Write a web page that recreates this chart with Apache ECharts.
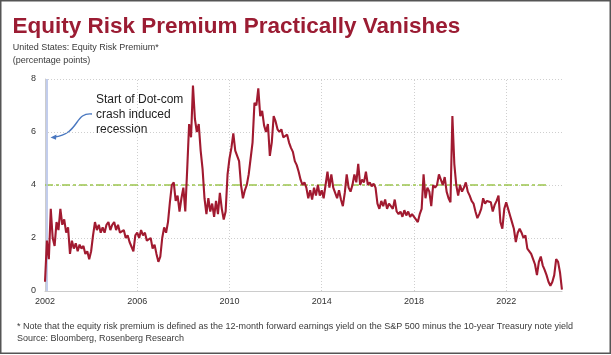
<!DOCTYPE html>
<html><head><meta charset="utf-8">
<script src="https://cdn.jsdelivr.net/npm/echarts@6/dist/echarts.min.js"></script>
<style>html,body{margin:0;padding:0;background:#fff}#c{width:611px;height:355px}</style>
</head><body><div id="c"></div>
<script>
// Monthly equity risk premium (percentage points), starting Jan 2002
const startYear = 2002;
const erp = [
  0.35, 1.9, 1.2, 3.1, 2.0, 1.7, 2.6, 2.3, 3.1, 2.5, 2.7, 2.2,
  2.4, 1.4, 1.9, 1.6, 1.8, 1.5, 1.75, 1.6, 1.7, 1.4, 1.5, 1.2,
  1.5, 2.1, 2.6, 2.3, 2.5, 2.2, 2.4, 2.2, 2.5, 2.6, 2.3, 2.5,
  2.6, 2.3, 2.5, 2.2, 2.15, 2.3, 2.0, 2.1, 1.85, 1.9, 1.5, 2.1,
  2.2, 2.0, 2.3, 2.1, 2.2, 1.9, 1.85, 2.0, 1.6, 1.75, 1.4, 1.1,
  1.3, 2.0, 2.4, 2.2, 2.6, 3.35, 4.0, 4.1, 3.4, 3.6, 3.0, 3.5,
  3.9, 3.0, 4.6, 6.3, 5.8, 7.75, 6.5, 6.0, 6.3, 5.3, 4.6, 3.5,
  2.9, 3.5, 3.0, 3.3, 2.8, 3.4, 2.9, 3.7, 3.1, 2.7, 3.0, 4.4,
  5.0, 5.4, 5.95, 5.3, 5.1, 4.9, 4.0, 3.5, 3.8, 4.0, 4.4, 5.0,
  5.6, 7.1, 7.0, 7.65, 6.6, 6.8, 6.25, 6.0, 6.3, 5.1, 5.6, 6.6,
  6.4, 6.1, 6.0, 6.1, 5.8, 5.75, 5.9, 5.6, 5.4, 5.25, 4.9, 4.75,
  4.5, 4.2, 4.0, 4.1, 3.9, 3.5, 3.8, 3.45, 3.9, 3.6, 4.0, 3.6,
  3.8, 3.5, 4.0, 4.5, 3.9, 4.4, 3.9, 3.7, 3.5, 3.8, 3.45, 3.2,
  3.7, 4.4, 3.9, 3.75, 4.0, 4.4, 4.1, 4.8, 4.0, 4.2, 4.1, 4.5,
  4.0, 4.1, 3.95, 4.05, 3.9, 3.3, 3.1, 3.4, 3.2, 3.45, 3.1, 3.3,
  3.2, 3.1, 3.45, 3.0, 2.9, 3.0, 2.8, 3.05, 2.85, 3.0, 2.8, 2.9,
  2.85, 2.7, 2.6, 2.9, 3.1, 4.4, 3.5, 3.9, 3.75, 3.2, 4.0, 3.9,
  4.0, 4.4, 4.45, 4.0, 4.3, 3.75, 3.5, 3.35, 6.6, 4.8, 4.0, 3.6,
  4.0, 3.75, 3.9, 4.1, 3.75, 3.6, 3.4, 3.3, 3.0, 2.75, 2.9, 3.1,
  3.5, 3.3, 3.4, 3.35, 3.35, 3.0, 3.25, 3.4, 3.6, 2.6, 2.35, 3.1,
  3.35, 3.1, 2.85, 2.6, 2.35, 1.85, 2.2, 2.35, 2.2, 2.0, 2.1, 1.6,
  1.6, 1.4, 1.2, 1.0, 0.6, 1.1, 1.3, 0.97, 0.8, 0.6, 0.35, 0.2,
  0.34, 0.6, 1.2, 1.1, 0.7, 0.05
];
const xTickYears = [2002, 2006, 2010, 2014, 2018, 2022];
const xMin = 2002, xMax = 2024.42, xInterval = 4;
const yMin = 0, yMax = 8, yInterval = 2;
const thresholdValue = 4;
const thresholdEnd = 2023.86;
const recessionStart = 2002.08;

const titleText = 'Equity Risk Premium Practically Vanishes';
const subtitleLines = ['United States: Equity Risk Premium*', '(percentage points)'];
const annotationText = 'Start of Dot-com\ncrash induced\nrecession';
const footnoteText = '* Note that the equity risk premium is defined as the 12-month forward earnings yield on the S&P 500 minus the 10-year Treasury note yield';
const sourceText = 'Source: Bloomberg, Rosenberg Research';

const seriesData = erp.map((v, i) => [startYear + i / 12, v]);
const FONT = "'Liberation Sans', Arial, sans-serif";
const gridLineStyle = {color: '#cfcfcf', type: [1, 2], width: 1};

const vGrid = xTickYears.slice(1).map(yr => [
  {coord: [yr, yMin], lineStyle: gridLineStyle}, {coord: [yr, yMax]}
]);

const chart = echarts.init(document.getElementById('c'), null, {renderer: 'canvas'});
chart.setOption({
  backgroundColor: '#fff',
  animation: false,
  grid: {left: 45, right: 49, top: 79, bottom: 64, containLabel: false},
  xAxis: {
    type: 'value', min: xMin, max: xMax, interval: xInterval,
    axisLine: {show: true, lineStyle: {color: '#cccccc', width: 1}},
    axisTick: {show: false},
    axisLabel: {color: '#333', fontSize: 9, fontFamily: FONT, margin: 6, showMaxLabel: false,
      formatter: v => (xTickYears.indexOf(v) >= 0 ? String(v) : '')},
    splitLine: {show: false}
  },
  yAxis: {
    type: 'value', min: yMin, max: yMax, interval: yInterval,
    axisLine: {show: true, lineStyle: {color: '#cccccc', width: 1}},
    axisTick: {show: false},
    axisLabel: {color: '#333', fontSize: 9, fontFamily: FONT, margin: 9},
    splitLine: {show: true, lineStyle: gridLineStyle}
  },
  series: [{
    type: 'line',
    data: seriesData,
    showSymbol: false,
    symbol: 'none',
    lineStyle: {color: '#a11a30', width: 2.1},
    z: 3,
    markLine: {
      silent: true,
      symbol: ['none', 'none'],
      label: {show: false},
      z: 1,
      data: vGrid.concat([
        [{coord: [xMin, thresholdValue], lineStyle: {color: '#9cc54e', width: 1.5, type: [8, 3, 3, 3]}},
         {coord: [thresholdEnd, thresholdValue]}],
        [{coord: [recessionStart, yMin], lineStyle: {color: '#b3c0e8', width: 1.6, type: 'solid'}},
         {coord: [recessionStart, yMax]}]
      ])
    }
  }],
  graphic: [
    {type: 'rect', shape: {x: 0.75, y: 0.75, width: 609.5, height: 352.5},
     style: {fill: 'none', stroke: '#555', lineWidth: 1.5}, silent: true},
    {type: 'text', x: 12.5, y: 26.7,
     style: {text: titleText, fill: '#9b1c33', font: "bold 22.5px " + FONT, verticalAlign: 'middle'}},
    {type: 'text', x: 12.7, y: 48,
     style: {text: subtitleLines[0], fill: '#3a3a3a', font: "9px " + FONT, verticalAlign: 'middle'}},
    {type: 'text', x: 12.7, y: 60.5,
     style: {text: subtitleLines[1], fill: '#3a3a3a', font: "9px " + FONT, verticalAlign: 'middle'}},
    {type: 'text', x: 96, y: 115,
     style: {text: annotationText, fill: '#222', font: "12px " + FONT, lineHeight: 15, verticalAlign: 'middle'}},
    {type: 'bezierCurve', shape: {x1: 92, y1: 114, cpx1: 74, cpy1: 112, cpx2: 80, cpy2: 134, x2: 54, y2: 137},
     style: {stroke: '#4a78c0', lineWidth: 1.4, fill: 'none'}},
    {type: 'polygon', shape: {points: [[50.5, 137.6], [56.5, 134.6], [56, 139.8]]},
     style: {fill: '#4a78c0'}},
    {type: 'text', x: 17, y: 326.7,
     style: {text: footnoteText, fill: '#3a3a3a', font: "9px " + FONT, verticalAlign: 'middle'}},
    {type: 'text', x: 17, y: 339,
     style: {text: sourceText, fill: '#3a3a3a', font: "9px " + FONT, verticalAlign: 'middle'}}
  ]
});
</script>
</body></html>
